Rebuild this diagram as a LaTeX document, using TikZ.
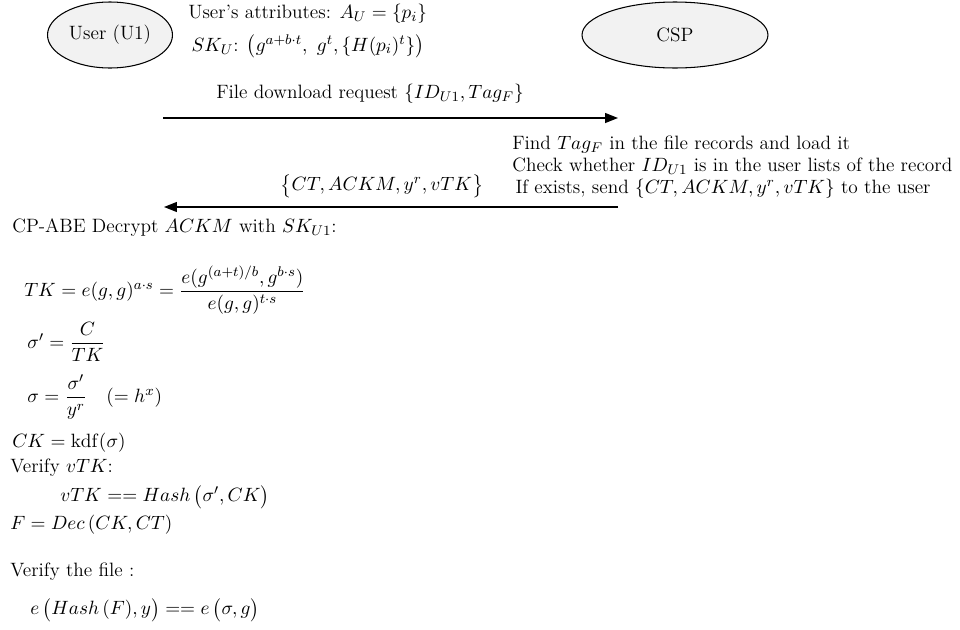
\documentclass[tikz,border=0pt]{standalone}
\usepackage{amsmath}
\usepackage{amssymb}
\usepackage{tikz}
\usetikzlibrary{arrows.meta, positioning, shapes.geometric}

\begin{document}
\begin{tikzpicture}[
    x=0.02cm, y=-0.02cm,
    every node/.style={font=\fontsize{11}{12.5}\selectfont, inner sep=0pt},
    party/.style={ellipse, draw=black, fill=gray!10, line width=0.6pt,
                  minimum height=1.32cm},
    txt/.style={anchor=west, align=left},
    msg/.style={-{Triangle[length=2.6mm, width=2mm]}, line width=0.8pt}
]
    \useasboundingbox (0,0) rectangle (960,629);

    % Parties
    \node[party, minimum width=2.5cm] (user) at (110,35) {User (U1)};
    \node[party, minimum width=3.72cm] (csp) at (675,35) {CSP};
    \node[txt] (attr) at (188,31) {User's attributes: $A_U=\{p_i\}$\\[6pt]
        \,$SK_U$: $\bigl(g^{a+b\cdot t},\ g^t,\{H(p_i)^t\}\bigr)$};

    % Message ends
    \coordinate (req0) at (163,118);
    \coordinate (req1) at (618,118);
    \coordinate (rep0) at (618,207);
    \coordinate (rep1) at (164,207);

    % Request
    \draw[msg] (req0) -- (req1)
        node[pos=0.455, above=8pt] (reqlbl) {File download request $\{ID_{U1}, Tag_F\}$};

    % CSP side
    \node[txt] (check) at (512,167) {Find $Tag_F$ in the file records and load it\\
        Check whether $ID_{U1}$ is in the user lists of the record\\
        \,If exists, send $\{CT, ACKM, y^r, vTK\}$ to the user};

    % Reply
    \draw[msg] (rep0) -- (rep1)
        node[pos=0.52, above=5pt] (replbl) {$\bigl\{CT, ACKM, y^r, vTK\bigr\}$};

    % User side: decryption
    \node[txt] (dec) at (12,228) {CP-ABE Decrypt $ACKM$ with $SK_{U1}$:};
    \node[txt] (tk) at (24,290)
        {$TK=e(g,g)^{a\cdot s}=\dfrac{e(g^{(a+t)/b},g^{b\cdot s})}{e(g,g)^{t\cdot s}}$};
    \node[txt] (sig1) at (27,342) {$\sigma'=\dfrac{C}{TK}$};
    \node[txt] (sig) at (27,397) {$\sigma=\dfrac{\sigma'}{y^r}\quad(=h^x)$};
    \node[txt] (ck) at (12,443) {$CK=\mathrm{kdf}(\sigma)$};
    \node[txt] (vtk) at (10,468) {Verify $vTK$:};
    \node[txt] (vtkeq) at (60,497) {$vTK\mathrel{==}Hash\,\bigl(\sigma',CK\bigr)$};
    \node[txt] (file) at (10,525) {$F=Dec\,(CK,CT)$};
    \node[txt] (vfile) at (10,572) {Verify the file :};
    \node[txt] (vfileeq) at (30,610) {$e\,\bigl(Hash\,(F),y\bigr)\mathrel{==}e\,\bigl(\sigma,g\bigr)$};
\end{tikzpicture}
\end{document}
